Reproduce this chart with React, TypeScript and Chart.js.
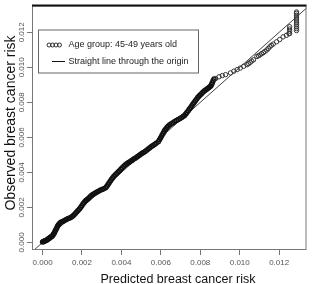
import React, { useEffect, useRef } from 'react';
import { Chart, registerables } from 'chart.js';

Chart.register(...registerables);

// Predicted (x) and observed (y) breast cancer risk
const predicted = [
  0.0, 0.00004, 0.00008, 0.00012, 0.00016, 0.0002, 0.00024, 0.00028, 0.00032, 0.00036,
  0.0004, 0.00044, 0.00048, 0.00052, 0.00056, 0.0006, 0.00064, 0.00068, 0.00072, 0.00076,
  0.0008, 0.00085, 0.0009, 0.00095, 0.00102, 0.00109, 0.00116, 0.00123, 0.0013, 0.00138,
  0.00145, 0.00152, 0.00159, 0.00166, 0.00173, 0.0018, 0.00187, 0.00193, 0.00199, 0.00205,
  0.00211, 0.00217, 0.00223, 0.00228, 0.00235, 0.00242, 0.00249, 0.00256, 0.00263, 0.0027,
  0.00278, 0.00286, 0.00294, 0.00302, 0.0031, 0.0032, 0.00326, 0.00332, 0.00338, 0.00344,
  0.0035, 0.00356, 0.00362, 0.00369, 0.00376, 0.00383, 0.0039, 0.00397, 0.00404, 0.00412,
  0.0042, 0.00427, 0.00434, 0.00441, 0.00448, 0.00455, 0.00462, 0.0047, 0.00477, 0.00484,
  0.00491, 0.00498, 0.00505, 0.00512, 0.0052, 0.00528, 0.00536, 0.00544, 0.00552, 0.0056,
  0.00568, 0.00576, 0.00587, 0.00593, 0.00599, 0.00605, 0.00611, 0.00616, 0.0062, 0.00626,
  0.00632, 0.00638, 0.00645, 0.00653, 0.00661, 0.0067, 0.00679, 0.00688, 0.00697, 0.00706,
  0.00714, 0.0072, 0.00726, 0.00732, 0.00739, 0.00745, 0.00751, 0.00757, 0.00763, 0.00769,
  0.00775, 0.00781, 0.00787, 0.00793, 0.00799, 0.00806, 0.00813, 0.0082, 0.00827, 0.00834,
  0.00841, 0.00847, 0.00853, 0.00857, 0.00861, 0.00865, 0.0087,
  0.00878, 0.00895, 0.00912, 0.00928, 0.00953, 0.0097, 0.00987, 0.01003, 0.0102, 0.01037,
  0.01045, 0.01053, 0.01061, 0.0107, 0.01087, 0.01095, 0.01103, 0.01111, 0.0112, 0.01128,
  0.01137, 0.01145, 0.01153, 0.01161, 0.0117, 0.01187, 0.01203, 0.0122, 0.01237, 0.0125,
  0.01253, 0.01253, 0.01253, 0.01253,
  0.01288, 0.01288, 0.01288, 0.01288, 0.01288, 0.01288, 0.01288, 0.01288, 0.01288, 0.01288, 0.01288,
];
const observed = [
  0.00002, 0.00005, 0.00006, 0.00009, 0.00011, 0.00013, 0.00016, 0.00019, 0.00022, 0.00026,
  0.00029, 0.00032, 0.00036, 0.00041, 0.00048, 0.00056, 0.00065, 0.00074, 0.00083, 0.00092,
  0.00099, 0.00106, 0.00112, 0.00116, 0.0012, 0.00124, 0.00128, 0.00132, 0.00136, 0.0014,
  0.00144, 0.0015, 0.00157, 0.00165, 0.00174, 0.00183, 0.00191, 0.002, 0.0021, 0.00219,
  0.00228, 0.00236, 0.00242, 0.00247, 0.00254, 0.00262, 0.00269, 0.00274, 0.00279, 0.00284,
  0.00289, 0.00294, 0.00299, 0.00303, 0.00307, 0.00312, 0.00321, 0.00331, 0.00341, 0.00351,
  0.00361, 0.0037, 0.00378, 0.00386, 0.00394, 0.00402, 0.0041, 0.00418, 0.00426, 0.00435,
  0.00444, 0.0045, 0.00455, 0.0046, 0.00465, 0.0047, 0.00476, 0.00481, 0.00486, 0.00492,
  0.00498, 0.00504, 0.00509, 0.00514, 0.00519, 0.00527, 0.00534, 0.00541, 0.00548, 0.00554,
  0.0056, 0.00566, 0.00575, 0.00586, 0.00598, 0.0061, 0.00622, 0.00632, 0.0064, 0.00649,
  0.00658, 0.00665, 0.00672, 0.00678, 0.00684, 0.0069, 0.00696, 0.00702, 0.00708, 0.00714,
  0.0072, 0.00725, 0.00733, 0.00742, 0.00752, 0.00762, 0.00771, 0.00781, 0.0079, 0.00799,
  0.00809, 0.00818, 0.00827, 0.00835, 0.00842, 0.00849, 0.00857, 0.00865, 0.00871, 0.00876,
  0.00882, 0.00887, 0.00893, 0.00902, 0.00912, 0.00923, 0.00934,
  0.00936, 0.00946, 0.00953, 0.00958, 0.00968, 0.00978, 0.00987, 0.00996, 0.01006, 0.01015,
  0.01021, 0.01028, 0.01036, 0.01043, 0.01062, 0.01066, 0.01071, 0.01078, 0.01084, 0.01091,
  0.01099, 0.01108, 0.01118, 0.01126, 0.01133, 0.01146, 0.01159, 0.01174, 0.01183, 0.01192,
  0.01193, 0.01206, 0.01219, 0.01232,
  0.0121, 0.01221, 0.01232, 0.01243, 0.01254, 0.01265, 0.01276, 0.01287, 0.01298, 0.01309, 0.01316,
];
// end values of the straight line y = x through the origin
const referenceLine = [-0.001, 0.015];

const xTicks = [0, 0.002, 0.004, 0.006, 0.008, 0.01, 0.012];
const xTickLabels = ['0.000', '0.002', '0.004', '0.006', '0.008', '0.010', '0.012'];
const yTicks = [0, 0.002, 0.004, 0.006, 0.008, 0.01, 0.012];
const yTickLabels = ['0.000', '0.002', '0.004', '0.006', '0.008', '0.010', '0.012'];

const seriesLabels = ['Age group: 45-49 years old', 'Straight line through the origin'];
const xTitle = 'Predicted breast cancer risk';
const yTitle = 'Observed breast cancer risk';

const FONT = '"Liberation Sans", Arial, sans-serif';

const decorPlugin = {
  id: 'decor',
  afterDraw(chart: any) {
    const { ctx, chartArea: a, scales } = chart;
    ctx.save();
    // plot box
    ctx.strokeStyle = '#777';
    ctx.lineWidth = 1;
    ctx.strokeRect(a.left + 0.5, a.top + 0.5, a.right - a.left - 1, a.bottom - a.top - 1);
    ctx.strokeStyle = '#111';
    ctx.lineWidth = 2;
    ctx.beginPath();
    ctx.moveTo(a.left, a.top);
    ctx.lineTo(a.right, a.top);
    ctx.stroke();

    // rotated y tick labels
    ctx.fillStyle = '#555';
    ctx.font = `8px ${FONT}`;
    ctx.textAlign = 'center';
    ctx.textBaseline = 'middle';
    yTicks.forEach((v, i) => {
      const y = scales.y.getPixelForValue(v);
      ctx.save();
      ctx.translate(a.left - 10.5, y);
      ctx.rotate(-Math.PI / 2);
      ctx.fillText(yTickLabels[i], 0, 0);
      ctx.restore();
    });

    // axis titles
    ctx.fillStyle = '#111';
    ctx.textBaseline = 'alphabetic';
    ctx.font = `12.5px ${FONT}`;
    ctx.fillText(xTitle, a.left + 146, a.bottom + 33);
    ctx.save();
    ctx.translate(a.left - 17, a.top + 117.5);
    ctx.rotate(-Math.PI / 2);
    ctx.font = `14px ${FONT}`;
    ctx.fillText(yTitle, 0, 0);
    ctx.restore();

    // legend
    const lx = a.left + 6.5;
    const ly = a.top + 24.5;
    ctx.fillStyle = '#fff';
    ctx.fillRect(lx, ly, 160, 43);
    ctx.strokeStyle = '#666';
    ctx.lineWidth = 1;
    ctx.strokeRect(lx, ly, 160, 43);
    const r1 = ly + 15;
    const r2 = ly + 31.5;
    ctx.strokeStyle = '#333';
    [10.5, 14, 17.5, 21].forEach((dx) => {
      ctx.beginPath();
      ctx.arc(lx + dx, r1, 2, 0, Math.PI * 2);
      ctx.stroke();
    });
    ctx.strokeStyle = '#111';
    ctx.beginPath();
    ctx.moveTo(lx + 13.5, r2);
    ctx.lineTo(lx + 26.5, r2);
    ctx.stroke();
    ctx.fillStyle = '#222';
    ctx.font = `9px ${FONT}`;
    ctx.textAlign = 'left';
    ctx.textBaseline = 'middle';
    ctx.fillText(seriesLabels[0], lx + 30, r1);
    ctx.fillText(seriesLabels[1], lx + 30, r2);
    ctx.restore();
  },
};

export default function App() {
  const ref = useRef<HTMLCanvasElement | null>(null);
  useEffect(() => {
    if (!ref.current) return;
    const chart = new Chart(ref.current, {
      type: 'scatter',
      data: {
        datasets: [
          {
            label: seriesLabels[0],
            data: predicted.map((x, i) => ({ x, y: observed[i] })),
            pointStyle: 'circle',
            pointRadius: (c: any) => (c.raw && c.raw.x <= 0.0087 ? 2 : 2.2),
            pointBorderWidth: (c: any) => (c.raw && c.raw.x <= 0.0087 ? 1.5 : 1),
            pointBorderColor: (c: any) => (c.raw && c.raw.x <= 0.0087 ? '#111' : '#333'),
            borderColor: '#111',
            backgroundColor: 'rgba(0,0,0,0)',
            showLine: false,
            order: 0,
          },
          {
            label: seriesLabels[1],
            data: referenceLine.map((v) => ({ x: v, y: v })),
            showLine: true,
            pointRadius: 0,
            borderColor: '#444',
            borderWidth: 1,
            order: 1,
          },
        ],
      },
      options: {
        responsive: false,
        animation: false,
        devicePixelRatio: 1,
        layout: { padding: { top: 1, right: 2, left: 0, bottom: 0 } },
        plugins: { legend: { display: false }, tooltip: { enabled: false } },
        scales: {
          x: {
            type: 'linear',
            min: -0.000536,
            max: 0.013387,
            afterBuildTicks: (s: any) => {
              s.ticks = xTicks.map((v) => ({ value: v }));
            },
            afterFit: (s: any) => {
              s.height = 34;
            },
            ticks: {
              autoSkip: false,
              maxRotation: 0,
              padding: 3,
              color: '#555',
              font: { family: FONT, size: 8 },
              callback: (_v: any, i: number) => xTickLabels[i],
            },
            grid: { drawOnChartArea: false, drawTicks: true, tickLength: 5, color: '#777' },
            border: { display: false },
          },
          y: {
            type: 'linear',
            min: -0.000432,
            max: 0.013531,
            afterBuildTicks: (s: any) => {
              s.ticks = yTicks.map((v) => ({ value: v }));
            },
            afterFit: (s: any) => {
              s.width = 32;
            },
            ticks: { display: false },
            grid: { drawOnChartArea: false, drawTicks: true, tickLength: 5, color: '#777' },
            border: { display: false },
          },
        },
      },
      plugins: [decorPlugin],
    });
    return () => chart.destroy();
  }, []);
  return (
    <div style={{ position: 'fixed', left: 0, top: 0, width: 312, height: 284, background: '#fff' }}>
      <canvas ref={ref} width={312} height={284} style={{ display: 'block' }} />
    </div>
  );
}
